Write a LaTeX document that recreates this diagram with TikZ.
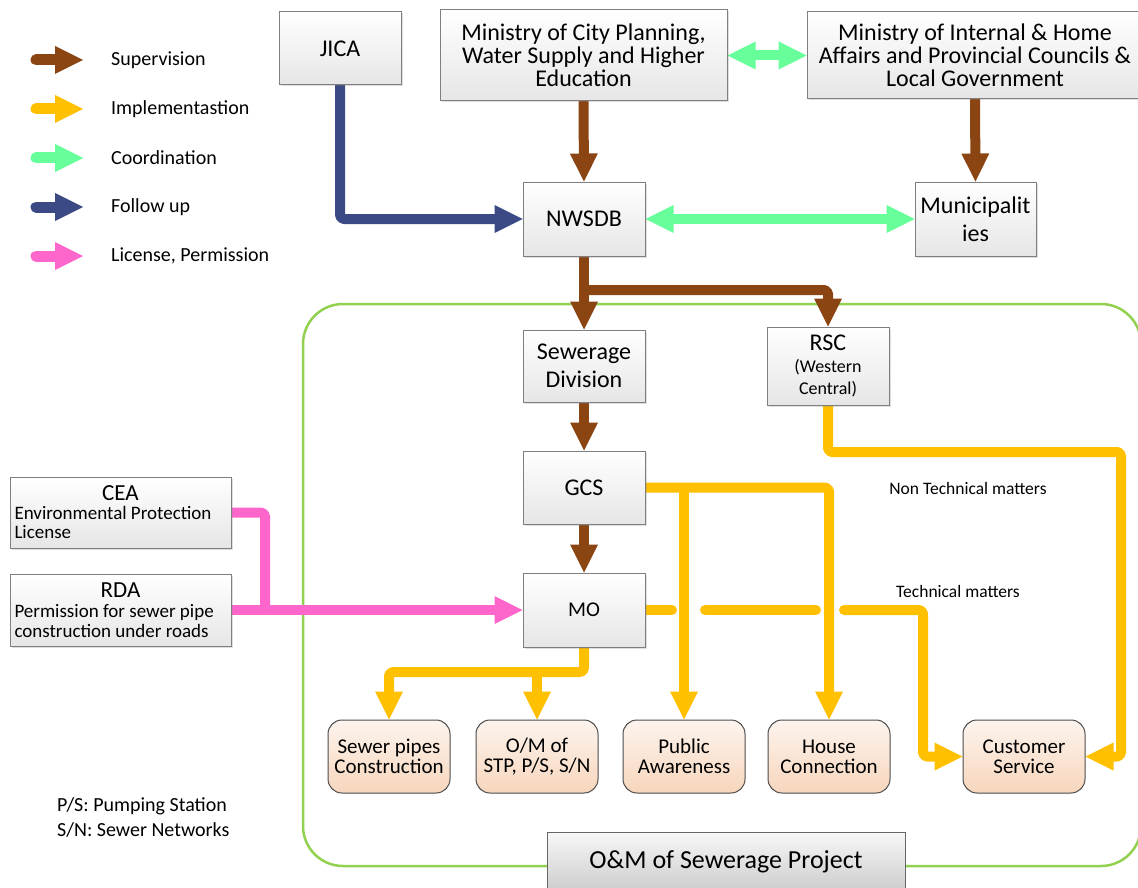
\documentclass[tikz,border=0pt]{standalone}
\usepackage{fontspec}
\setmainfont{Carlito}
\usetikzlibrary{arrows.meta,shadows}

\definecolor{supv}{HTML}{8B4513}
\definecolor{impl}{HTML}{FFC000}
\definecolor{coord}{HTML}{66FF99}
\definecolor{follow}{HTML}{3B4A85}
\definecolor{perm}{HTML}{FF66CC}
\definecolor{frame}{HTML}{92D050}
\definecolor{boxline}{HTML}{7F7F7F}
\definecolor{boxbot}{HTML}{E6E6E6}
\definecolor{tasktop}{HTML}{FDF4EE}
\definecolor{taskbot}{HTML}{F7D6BC}

\pgfdeclarelayer{back}
\pgfdeclarelayer{links}
\pgfsetlayers{back,links,main}

\tikzset{
  bigtri/.tip={Triangle[width=28pt,length=28pt,line width=0pt]},
  orgbox/.style={draw=boxline, line width=1pt, top color=white, bottom color=boxbot,
    inner sep=2pt, align=center, font=\fontsize{24}{23}\selectfont,
    drop shadow={shadow xshift=1.5pt, shadow yshift=-1.5pt, opacity=0.25}},
  taskbox/.style={draw=black!70, line width=1pt, rounded corners=14pt,
    top color=tasktop, bottom color=taskbot, align=center,
    minimum width=122pt, minimum height=73pt, inner sep=2pt,
    font=\fontsize{21}{20}\selectfont},
  link/.style={line width=10pt, line cap=round, line join=round, rounded corners=4pt},
  legarrow/.style={line width=11pt, line cap=round, -bigtri},
  legtext/.style={anchor=west, inner sep=0pt, font=\fontsize{20}{20}\selectfont},
  note/.style={inner sep=0pt, font=\fontsize{17.5}{18}\selectfont},
}

\begin{document}
\begin{tikzpicture}[x=1pt, y=-1pt]
\useasboundingbox (0,0) rectangle (1138,888);

% page background and project frame
\begin{pgfonlayer}{back}
  \fill[white] (0,0) rectangle (1138,888);
  \draw[frame, line width=2.5pt, rounded corners=40pt] (303,304) rectangle (1141,866);
\end{pgfonlayer}

% legend
\foreach \yy/\col/\txt [count=\i] in {60/supv/Supervision, 109/impl/Implementastion,
    158/coord/Coordination, 207/follow/Follow up, 256/perm/{License, Permission}} {
  \coordinate (ls\i) at (36,\yy);
  \coordinate (le\i) at (83,\yy);
  \draw[legarrow, \col] (ls\i) -- (le\i);
  \node[legtext] (lt\i) at (111,\yy) {\txt};
}

% organisations
\node[orgbox, minimum width=122pt, minimum height=73pt] (jica) at (340,48.5) {JICA};
\node[orgbox, minimum width=287pt, minimum height=91pt] (mcp) at (583.5,55.5)
  {Ministry of City Planning,\\Water Supply and Higher\\Education};
\node[orgbox, minimum width=336pt, minimum height=87pt] (mih) at (975,55.5)
  {Ministry of Internal \& Home\\Affairs and Provincial Councils \&\\Local Government};
\node[orgbox, minimum width=122pt, minimum height=74pt] (nwsdb) at (584,219) {NWSDB};
\node[orgbox, minimum width=121pt, minimum height=74pt,
  font=\fontsize{24}{28}\selectfont] (muni) at (975.5,219) {Municipalit\\ies};
\node[orgbox, minimum width=122pt, minimum height=72pt,
  font=\fontsize{24}{28}\selectfont] (sd) at (584,366) {Sewerage\\Division};
\node[orgbox, minimum width=122pt, minimum height=78pt] (rsc) at (828,366)
  {\begin{minipage}{118pt}\centering\fontsize{24}{22}\selectfont RSC\par
   \fontsize{18}{22}\selectfont (Western\\Central)\end{minipage}};
\node[orgbox, minimum width=122pt, minimum height=73pt] (gcs) at (584,487.5) {GCS};
\node[orgbox, minimum width=122pt, minimum height=74pt,
  font=\fontsize{21}{23}\selectfont] (mo) at (584,610) {MO};
\node[orgbox, minimum width=221pt, minimum height=71pt] (cea) at (120.5,512.5)
  {\begin{minipage}{212pt}\centering\fontsize{23}{21}\selectfont CEA\par
   \raggedright\fontsize{19}{19}\selectfont Environmental Protection\\License\end{minipage}};
\node[orgbox, minimum width=221pt, minimum height=72pt] (rda) at (120.5,610)
  {\begin{minipage}{212pt}\centering\fontsize{23}{20}\selectfont RDA\par
   \raggedright\fontsize{19}{20}\selectfont Permission for sewer pipe\\construction under roads\end{minipage}};

% tasks
\node[taskbox] (sp) at (389,756.5) {Sewer pipes\\Construction};
\node[taskbox] (om) at (537,756.5) {O/M of\\STP, P/S, S/N};
\node[taskbox] (pa) at (684,756.5) {Public\\Awareness};
\node[taskbox] (hc) at (829,756.5) {House\\Connection};
\node[taskbox] (cs) at (1024,756.5) {Customer\\Service};

% project title
\node[draw=black!60, line width=1pt, top color=gray!6, bottom color=gray!40,
  minimum width=358pt, minimum height=60pt, font=\fontsize{26}{28}\selectfont]
  (proj) at (726,862) {O\&M of Sewerage Project};

% notes
\node[note] (ntm) at (968,488) {Non Technical matters};
\node[note] (tm) at (958,591) {Technical matters};
\node[legtext] (ps) at (57,806) {P/S: Pumping Station};
\node[legtext] (sn) at (57,830) {S/N: Sewer Networks};

% junction points
\coordinate (nsplit) at (584,290);
\coordinate (pjoin) at (265,610);
\coordinate (gsplit) at (684,488);
\coordinate (rturn) at (1121,452);
\coordinate (msplit) at (537,672);
\coordinate (mturn) at (584,672);
\coordinate (gapa) at (672,610);
\coordinate (gapb) at (705,610);
\coordinate (gapc) at (816,610);
\coordinate (gapd) at (844,610);
\coordinate (tturn) at (923,610);

\begin{pgfonlayer}{links}
  % supervision
  \draw[link, supv, -bigtri] (mcp.south) -- (nwsdb.north);
  \draw[link, supv, -bigtri] (mih.south) -- (muni.north);
  \draw[link, supv, -bigtri] (nwsdb.south) -- (sd.north);
  \draw[link, supv, -bigtri] (nsplit) -| (rsc.north);
  \draw[link, supv, -bigtri] (sd.south) -- (gcs.north);
  \draw[link, supv, -bigtri] (gcs.south) -- (mo.north);
  % coordination
  \draw[link, coord, bigtri-bigtri] (mcp.east) -- (mih.west);
  \draw[link, coord, bigtri-bigtri] (nwsdb.east) -- (muni.west);
  % follow up
  \draw[link, follow, -bigtri] (jica.south) |- (nwsdb.west);
  % licences and permissions
  \draw[link, perm] (cea.east) -| (pjoin);
  \draw[link, perm, -bigtri] (rda.east) -- (mo.west);
  % implementation
  \draw[link, impl, -bigtri] (gcs.east) -| (hc.north);
  \draw[link, impl, -bigtri] (gsplit) -- (pa.north);
  \draw[link, impl, -bigtri] (rsc.south) |- (rturn) |- (cs.east);
  \draw[link, impl] (mo.east) -- (gapa);
  \draw[link, impl] (gapb) -- (gapc);
  \draw[link, impl, -bigtri] (gapd) -- (tturn) |- (cs.west);
  \draw[link, impl, -bigtri] (mo.south) -- (mturn) -| (sp.north);
  \draw[link, impl, -bigtri] (msplit) -- (om.north);
\end{pgfonlayer}
\end{tikzpicture}
\end{document}
